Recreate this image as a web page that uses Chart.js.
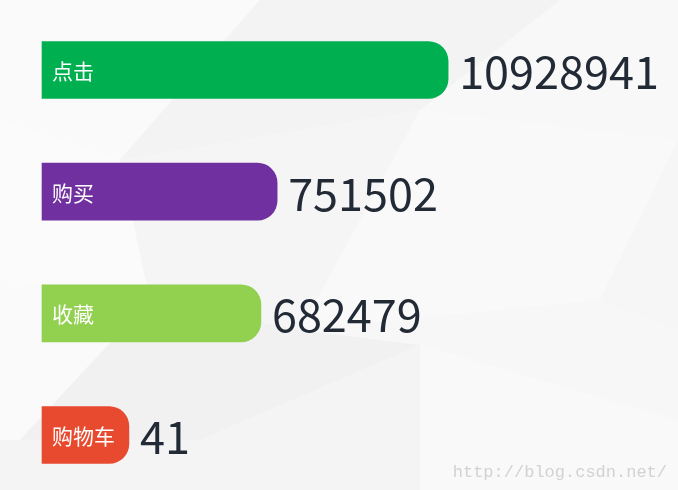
<!DOCTYPE html>
<html>
<head>
<meta charset="utf-8">
<script src="https://cdn.jsdelivr.net/npm/chart.js@4/dist/chart.umd.min.js"></script>
<style>
html,body{margin:0;padding:0;background:#f6f6f6;}
#wrap{width:678px;height:490px;position:relative;}
</style>
</head>
<body>
<div id="wrap"><canvas id="c" width="678" height="490"></canvas></div>
<script>
// Categories, displayed values, and relative bar lengths
const categories = ['点击', '购买', '收藏', '购物车'];
const displayValues = [10928941, 751502, 682479, 41];
const barLengths = [100, 57.9, 53.9, 21.4];
const barColors = ['#00b050', '#7030a0', '#92d050', '#e84a2f'];

const bgPlugin = {
  id: 'bg',
  beforeDraw(chart) {
    const ctx = chart.ctx;
    ctx.save();
    ctx.fillStyle = '#f6f6f6';
    ctx.fillRect(0, 0, chart.width, chart.height);
    const polys = [
      ['#fafafa', [[0,0],[260,0],[120,160],[0,120]]],
      ['#f3f3f3', [[260,0],[560,0],[420,110],[120,160]]],
      ['#f8f8f8', [[560,0],[678,0],[678,140],[420,110]]],
      ['#fbfbfb', [[0,120],[120,160],[150,300],[0,280]]],
      ['#f5f5f5', [[120,160],[420,110],[300,330],[150,300]]],
      ['#f9f9f9', [[420,110],[678,140],[600,300],[300,330]]],
      ['#fafafa', [[0,280],[150,300],[20,440],[0,440]]],
      ['#f1f1f1', [[150,300],[300,330],[420,345],[200,440],[20,440]]],
      ['#f7f7f7', [[300,330],[600,300],[678,330],[678,420],[420,345]]],
      ['#f9f9f9', [[420,345],[678,420],[678,490],[420,490]]],
      ['#f4f4f4', [[0,440],[200,440],[420,345],[420,490],[0,490]]]
    ];
    for (const [col, pts] of polys) {
      ctx.fillStyle = col;
      ctx.beginPath();
      pts.forEach((p, i) => i ? ctx.lineTo(p[0], p[1]) : ctx.moveTo(p[0], p[1]));
      ctx.closePath();
      ctx.fill();
    }
    ctx.restore();
  },
  afterDraw(chart) {
    const ctx = chart.ctx;
    ctx.save();
    ctx.fillStyle = '#d2d2d2';
    ctx.font = '17px "Liberation Mono", "DejaVu Sans Mono", monospace';
    ctx.textAlign = 'right';
    ctx.textBaseline = 'alphabetic';
    ctx.fillText('http://blog.csdn.net/', 667, 477);
    ctx.restore();
  }
};

const labelPlugin = {
  id: 'labels',
  afterDatasetsDraw(chart) {
    const ctx = chart.ctx;
    const meta = chart.getDatasetMeta(0);
    ctx.save();
    meta.data.forEach((bar, i) => {
      const left = bar.base;
      const right = bar.x;
      ctx.textBaseline = 'middle';
      ctx.textAlign = 'left';
      ctx.fillStyle = '#ffffff';
      ctx.font = '21px "Noto Sans CJK SC", sans-serif';
      ctx.fillText(categories[i], left + 10, bar.y + 1);
      ctx.fillStyle = '#222a36';
      ctx.font = '45px "Noto Sans CJK SC", "Noto Sans", sans-serif';
      ctx.fillText(String(displayValues[i]), right + 11, bar.y + 2);
    });
    ctx.restore();
  }
};

new Chart(document.getElementById('c'), {
  type: 'bar',
  data: {
    labels: categories,
    datasets: [{
      data: barLengths,
      backgroundColor: barColors,
      borderSkipped: 'start',
      borderRadius: {topLeft: 0, bottomLeft: 0, topRight: 20, bottomRight: 20},
      barThickness: 57,
      clip: false
    }]
  },
  options: {
    indexAxis: 'y',
    responsive: false,
    animation: false,
    layout: {padding: {left: 42, right: 0, top: 70, bottom: 55}},
    plugins: {legend: {display: false}, tooltip: {enabled: false}},
    scales: {
      x: {display: false, min: 0, max: 156.6},
      y: {display: false, offset: false}
    }
  },
  plugins: [bgPlugin, labelPlugin]
});
</script>
</body>
</html>
